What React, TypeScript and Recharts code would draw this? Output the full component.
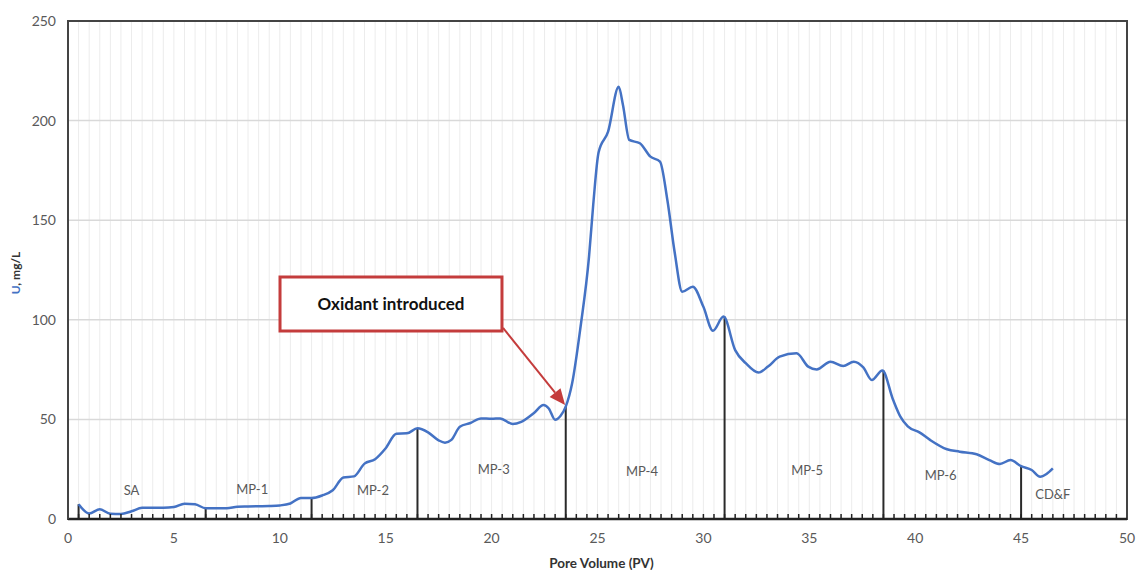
import {
  ComposedChart,
  Line,
  Scatter,
  XAxis,
  YAxis,
  CartesianGrid,
  ReferenceLine,
  ReferenceArea,
} from "recharts";

// uranium breakthrough curve
const PV = [
  0.5, 1.0, 1.5, 2.0, 2.5, 3.0, 3.5, 4.0, 4.5, 5.0, 5.5, 6.0, 6.5, 7.0, 7.5, 8.0, 8.5, 9.0, 9.5, 10.0,
  10.5, 11.0, 11.5, 12.0, 12.5, 13.0, 13.5, 14.0, 14.5, 15.0, 15.5, 16.0, 16.5, 17.0, 17.5, 17.8, 18.1,
  18.5, 19.0, 19.5, 20.0, 20.4, 21.0, 21.4, 22.0, 22.45, 22.7, 23.0, 23.25, 23.5, 23.8, 24.2, 24.6,
  24.8, 25.05, 25.5, 26.0, 26.2, 26.5, 27.0, 27.5, 27.95, 28.3, 28.65, 29.0, 29.5, 30.0, 30.45, 30.95,
  31.5, 32.0, 32.6, 33.05, 33.6, 34.4, 34.95, 35.35, 36.0, 36.6, 37.1, 37.55, 37.95, 38.45, 38.95,
  39.3, 39.65, 40.2, 40.7, 41.5, 42.1, 42.9, 43.5, 44.0, 44.5, 45.0, 45.5, 45.9, 46.2, 46.5,
];
const U = [
  7.4, 2.8, 4.9, 2.6, 2.5, 3.9, 5.6, 5.7, 5.7, 6.0, 7.7, 7.4, 5.4, 5.4, 5.4, 6.2, 6.3, 6.4, 6.5, 6.8,
  7.8, 10.6, 10.5, 11.8, 14.4, 20.8, 21.4, 27.8, 30.0, 35.5, 42.8, 43.0, 45.5, 43.5, 39.5, 38.3, 39.7,
  46.3, 48.2, 50.5, 50.3, 50.5, 47.7, 48.8, 53.2, 57.2, 55.5, 49.8, 51.7, 56.4, 68, 96.5, 131.7,
  158, 184, 194.5, 217, 208, 190.3, 188.6, 181.9, 179.4, 160, 133.4, 114.1, 116.6, 106.5, 94.5, 101.6,
  84.8, 78.2, 73.5, 76.5, 81.5, 83.2, 76.5, 75.1, 79, 76.8, 79, 76.1, 69.8, 74.6, 60,
  51.4, 46.5, 43.5, 39.7, 35, 33.8, 32.5, 29.6, 27.6, 29.6, 26.5, 24.6, 21.2, 22.6, 25.4,
];

// phase boundaries (vertical drop lines)
const BOUNDARY_PV = [0.5, 6.5, 11.5, 16.5, 23.5, 31, 38.5, 45];
const BOUNDARY_U = [7.4, 5.4, 10.5, 45.5, 56.4, 101.6, 74.6, 26.5];

// phase names
const PHASE_NAMES = ["SA", "MP-1", "MP-2", "MP-3", "MP-4", "MP-5", "MP-6", "CD&F"];
const PHASE_PV = [3, 8.7, 14.4, 20.1, 27.1, 34.9, 41.2, 46.5];
const PHASE_U = [13.5, 14, 13.5, 24, 23, 23.5, 21, 11.5];

const Y_TICKS = [0, 50, 100, 150, 200, 250];
const MINOR = Array.from({ length: 101 }, (_, i) => i * 0.5);

const BLUE = "#4472c4";
const RED = "#c43c3c";
const GRAY = "#595959";
const FONT = "Lato, 'Open Sans', sans-serif";

const curve = PV.map((pv, i) => ({ pv, u: U[i] }));
const phases = PHASE_NAMES.map((name, i) => ({ pv: PHASE_PV[i], u: PHASE_U[i], name }));

const XTick = (p: any) => {
  const v = p.payload.value;
  const major = Math.abs(v % 5) < 1e-6;
  return (
    <g>
      {v > 0 && v < 50 && <line x1={p.x} x2={p.x} y1={p.y} y2={p.y - 5} stroke="#222" strokeWidth={1.5} />}
      {major && (
        <text x={p.x} y={p.y + 24} textAnchor="middle" fill={GRAY} fontSize={14} fontFamily={FONT}>
          {v}
        </text>
      )}
    </g>
  );
};

const Arrow = (p: any) => {
  const { x1, y1, x2, y2 } = p;
  const a = Math.atan2(y2 - y1, x2 - x1);
  const L = 16;
  const W = 7;
  const bx = x2 - L * Math.cos(a);
  const by = y2 - L * Math.sin(a);
  const pts = [
    [x2, y2],
    [bx + W * Math.sin(a), by - W * Math.cos(a)],
    [bx - W * Math.sin(a), by + W * Math.cos(a)],
  ]
    .map((q) => q.join(","))
    .join(" ");
  return (
    <g>
      <line x1={x1} y1={y1} x2={bx} y2={by} stroke={RED} strokeWidth={2} />
      <polygon points={pts} fill={RED} />
    </g>
  );
};

export default function App() {
  return (
    <div style={{ width: 1136, height: 570, background: "#fff" }}>
      <style>{"body{margin:0}"}</style>
      <ComposedChart width={1136} height={570} data={curve} margin={{ top: 21, right: 9, bottom: 0, left: 0 }}>
        <CartesianGrid horizontal={false} verticalValues={MINOR} stroke="#ececec" strokeWidth={1} />
        <CartesianGrid vertical={false} stroke="#d9d9d9" strokeWidth={1.5} />
        <XAxis
          dataKey="pv"
          type="number"
          domain={[0, 50]}
          ticks={MINOR}
          interval={0}
          height={51}
          tickSize={0}
          tickMargin={0}
          tickLine={false}
          tick={<XTick />}
          axisLine={{ stroke: "#222", strokeWidth: 2.5 }}
          label={{
            value: "Pore Volume (PV)",
            position: "insideBottom",
            offset: 2,
            dx: 4,
            fill: "#333",
            fontSize: 13.5,
            fontWeight: 700,
            fontFamily: FONT,
          }}
        />
        <YAxis
          type="number"
          domain={[0, 250]}
          ticks={Y_TICKS}
          width={68}
          tickSize={0}
          tickMargin={12}
          tickLine={false}
          axisLine={{ stroke: "#444", strokeWidth: 2 }}
          tick={{ fill: GRAY, fontSize: 14, fontFamily: FONT }}
          label={{
            content: ({ viewBox }: any) => {
              const cx = viewBox.x + 20;
              const cy = viewBox.y + viewBox.height / 2 + 3;
              return (
                <text
                  x={cx}
                  y={cy}
                  transform={`rotate(-90, ${cx}, ${cy})`}
                  textAnchor="middle"
                  fontSize={12}
                  fontWeight={700}
                  fontFamily={FONT}
                >
                  <tspan fill={BLUE}>U</tspan>
                  <tspan fill="#333">, mg/L</tspan>
                </text>
              );
            },
          }}
        />
        <ReferenceArea x1={0} x2={50} y1={0} y2={250} fill="none" stroke="#444" strokeWidth={2} />
        {BOUNDARY_PV.map((x, i) => (
          <ReferenceLine
            key={"b" + x}
            segment={[
              { x, y: 0 },
              { x, y: BOUNDARY_U[i] },
            ]}
            stroke="#2a2a2a"
            strokeWidth={2}
          />
        ))}
        <Line
          dataKey="u"
          type="monotone"
          stroke={BLUE}
          strokeWidth={2.5}
          dot={false}
          activeDot={false}
          isAnimationActive={false}
        />
        <Scatter
          data={phases}
          dataKey="u"
          isAnimationActive={false}
          shape={(p: any) => (
            <text x={p.cx} y={p.cy} textAnchor="middle" dominantBaseline="middle" fill={GRAY} fontSize={13} fontFamily={FONT}>
              {p.payload.name}
            </text>
          )}
        />
        <ReferenceLine
          segment={[
            { x: 20.54, y: 95.9 },
            { x: 23.47, y: 57.2 },
          ]}
          shape={<Arrow />}
        />
        <ReferenceArea
          x1={10.01}
          x2={20.49}
          y1={94.4}
          y2={121.5}
          fill="#fff"
          fillOpacity={1}
          stroke={RED}
          strokeWidth={3}
          label={{
            value: "Oxidant introduced",
            position: "center",
            fill: "#111",
            fontSize: 17,
            fontWeight: 700,
            fontFamily: FONT,
          }}
        />
      </ComposedChart>
    </div>
  );
}
